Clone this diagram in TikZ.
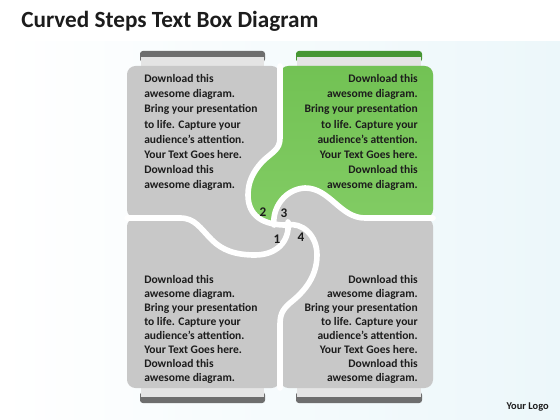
\documentclass[tikz,border=0pt]{standalone}
\usepackage{fontspec}
\setmainfont{Carlito}
\definecolor{panelgray}{RGB}{200,200,200}
\definecolor{panelgreen}{RGB}{130,204,100}
\definecolor{greentop}{RGB}{114,194,84}
\definecolor{tabdark}{RGB}{110,110,110}
\definecolor{tabgreen}{RGB}{70,150,50}
\definecolor{tablight}{RGB}{228,228,228}
\definecolor{inkcol}{RGB}{28,28,28}
\definecolor{bgtint}{RGB}{236,247,250}
\newcommand{\stepblurb}{Download this\\awesome diagram.\\Bring your presentation\\to life. Capture your\\audience’s attention.\\Your Text Goes here.\\Download this\\awesome diagram.}

\begin{document}
\begin{tikzpicture}[x=0.025cm,y=-0.025cm,
  panel/.style={fill=panelgray,rounded corners=6pt},
  arm/.style={draw=white,line width=4pt,line cap=round},
  blurb/.style={inner sep=0pt,text=inkcol,font=\fontsize{8.2pt}{#1}\selectfont\bfseries},
  stepnum/.style={inner sep=0pt,text=inkcol,font=\fontsize{9.4pt}{11pt}\selectfont\bfseries}]
\useasboundingbox (0,0) rectangle (560,420);
% Background
\shade[left color=white,right color=bgtint] (0,42) rectangle (560,420);

% Title
\node[anchor=base west,inner sep=0pt,text=inkcol,font=\fontsize{16.5pt}{19pt}\selectfont\bfseries] (title) at (21,28) {Curved Steps Text Box Diagram};

% Top tabs
\fill[tabdark,rounded corners=2pt] (140,51) rectangle (265,62);
\fill[tablight] (141,57) rectangle (264,67);
\fill[tabgreen,rounded corners=2pt] (296,51) rectangle (422,62);
\fill[tablight] (297,57) rectangle (421,67);
% Bottom tabs
\fill[tabdark,rounded corners=2pt] (140,392) rectangle (265,403);
\fill[tablight] (141,387) rectangle (264,397);
\fill[tabdark,rounded corners=2pt] (296,392) rectangle (422,403);
\fill[tablight] (297,387) rectangle (421,397);

% Panels
\fill[panel] (127,66) rectangle (280,218);
\fill[panel] (280,66) rectangle (433,218);
\fill[panel] (127,218) rectangle (280,388);
\fill[panel] (280,218) rectangle (433,388);
\fill[panelgray] (266,206) rectangle (298,238);

% Green step
\shade[top color=greentop,bottom color=panelgreen,rounded corners=6pt] (274,225) .. controls (272,208) and (285,189) .. (305,188) .. controls (330,188) and (340,218) .. (365,218) -- (433,218) -- (433,66) -- (280,66) -- (280,138) .. controls (280,150) and (272,152) .. (262,162) .. controls (253,172) and (248,182) .. (248,195) .. controls (248,215) and (262,226) .. (290,225) -- cycle;

% Swirl
\draw[arm] (280,66) -- (280,138) .. controls (280,150) and (272,152) .. (262,162) .. controls (253,172) and (248,182) .. (248,195) .. controls (248,215) and (262,226) .. (290,225);
\draw[arm] (274,225) .. controls (272,208) and (285,189) .. (305,188) .. controls (330,188) and (340,218) .. (365,218) -- (433,218);
\draw[arm] (287,225) .. controls (302,222) and (317,235) .. (317,255) .. controls (317,280) and (300,295) .. (290,303) .. controls (282,310) and (280,315) .. (280,325) -- (280,388);
\draw[arm] (288,222) .. controls (290,242) and (276,255) .. (255,255) .. controls (235,255) and (222,250) .. (212,240) .. controls (200,228) and (195,218) .. (180,218) -- (127,218);

% Step numbers
\node[stepnum] (n2) at (263,212) {2};
\node[stepnum] (n3) at (284,213) {3};
\node[stepnum] (n1) at (277,239) {1};
\node[stepnum] (n4) at (301,237) {4};

% Text boxes
\node[blurb=10.7pt,anchor=north west,align=left] (tltext) at (144,74.5) {\stepblurb};
\node[blurb=10.7pt,anchor=north east,align=right] (trtext) at (418,74.5) {\stepblurb};
\node[blurb=9.9pt,anchor=north west,align=left] (bltext) at (144,275.5) {\stepblurb};
\node[blurb=9.9pt,anchor=north east,align=right] (brtext) at (418,275.5) {\stepblurb};

% Logo
\node[anchor=base east,inner sep=0pt,text=inkcol,font=\fontsize{7.4pt}{9pt}\selectfont\bfseries] (logo) at (549,409) {Your Logo};
\end{tikzpicture}
\end{document}
